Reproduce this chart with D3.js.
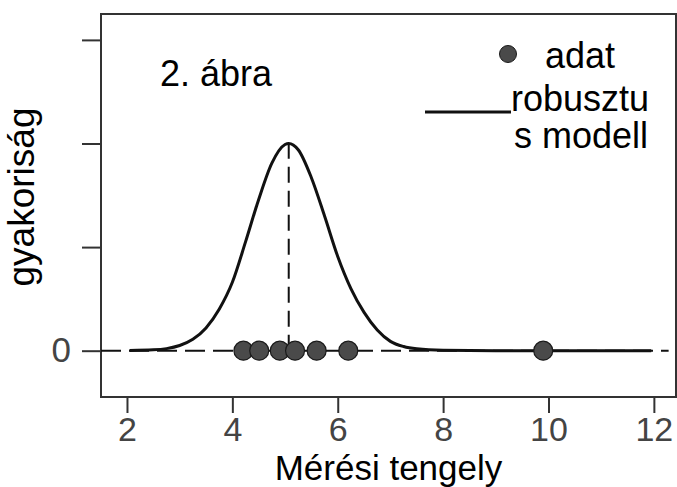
<!DOCTYPE html>
<html lang="hu">
<head>
  <meta charset="utf-8">
  <style>
    body { margin: 0; padding: 0; background: #fff; }
    text { font-family: "Liberation Sans", Arial, Helvetica, sans-serif; }
    .tick text { font-family: "Liberation Sans Narrow", "Liberation Sans", Arial, sans-serif; }
  </style>
</head>
<body>
<svg width="677" height="487"></svg>
<script src="https://d3js.org/d3.v7.min.js"></script>
<script>
  // measured points on the "Mérési tengely" axis
  var dataPoints = [4.21, 4.51, 4.90, 5.19, 5.60, 6.20, 9.90];

  // robust model curve
  var curveX = [2.05, 2.5, 2.75, 3.0, 3.25, 3.5, 3.75, 4.0, 4.25, 4.5, 4.75, 5.0, 5.07,
                5.25, 5.5, 5.75, 6.0, 6.25, 6.5, 6.75, 7.0, 7.25, 7.5, 8.0, 9.0, 10.0, 11.95];
  var curveY = [0.002, 0.008, 0.02, 0.05, 0.11, 0.22, 0.40, 0.66, 1.05, 1.46, 1.81, 1.99, 2.0,
                1.94, 1.67, 1.30, 0.91, 0.60, 0.37, 0.20, 0.09, 0.04, 0.018, 0.004, 0, 0, 0];

  var center = 5.07, peak = 2.0;

  var xTicks = [2, 4, 6, 8, 10, 12];
  var yTicks = [0, 1, 2, 3];

  var svg = d3.select("svg"),
    box = { left: 101, right: 676, top: 14, bottom: 397 };

  var x = d3.scaleLinear().domain([1.507, 12.42]).range([box.left, box.right]);
  var y = d3.scaleLinear().domain([-0.447, 3.25]).range([box.bottom, box.top]);

  // axes
  svg.append("g")
    .attr("transform", "translate(0," + box.bottom + ")")
    .call(d3.axisBottom(x).tickValues(xTicks).tickSize(16).tickPadding(2).tickFormat(d3.format("d")))
    .call(function(g) {
      g.select(".domain").remove();
      g.selectAll("line").attr("stroke", "#333").attr("stroke-width", 2);
      g.selectAll("text").attr("fill", "#444").style("font-size", "34px").attr("dy", "0.75em");
    });

  svg.append("g")
    .attr("transform", "translate(" + box.left + ",0)")
    .call(d3.axisLeft(y).tickValues(yTicks).tickSize(19).tickPadding(11)
      .tickFormat(function(d) { return d === 0 ? "0" : ""; }))
    .call(function(g) {
      g.select(".domain").remove();
      g.selectAll("line").attr("stroke", "#333").attr("stroke-width", 2);
      g.selectAll("text").attr("fill", "#444").style("font-size", "35px");
    });

  // frame
  svg.append("rect")
    .attr("x", box.left).attr("y", box.top)
    .attr("width", box.right - box.left).attr("height", box.bottom - box.top)
    .attr("fill", "none").attr("stroke", "#333").attr("stroke-width", 2);

  // zero line and centre line (dashed)
  svg.append("line")
    .attr("x1", x(1.507)).attr("x2", x(12.28))
    .attr("y1", y(0)).attr("y2", y(0))
    .attr("stroke", "#111").attr("stroke-width", 2)
    .attr("stroke-dasharray", "20,8");

  svg.append("line")
    .attr("x1", x(center)).attr("x2", x(center))
    .attr("y1", y(0)).attr("y2", y(peak))
    .attr("stroke", "#111").attr("stroke-width", 2)
    .attr("stroke-dasharray", "16,8");

  // model curve
  var line = d3.line()
    .x(function(d, i) { return x(curveX[i]); })
    .y(function(d, i) { return y(curveY[i]); })
    .curve(d3.curveMonotoneX);

  svg.append("path")
    .datum(curveX)
    .attr("d", line)
    .attr("fill", "none")
    .attr("stroke", "#111")
    .attr("stroke-width", 3);

  // data points
  svg.append("g")
    .selectAll("circle")
    .data(dataPoints)
    .enter().append("circle")
    .attr("cx", function(d) { return x(d); })
    .attr("cy", y(0))
    .attr("r", 9.5)
    .attr("fill", "#4a4a4a")
    .attr("stroke", "#1a1a1a")
    .attr("stroke-width", 1.2);

  // title inside the plot
  svg.append("text")
    .attr("x", 160).attr("y", 86)
    .style("font-size", "36px")
    .text("2. ábra");

  // legend
  svg.append("circle")
    .attr("cx", 508).attr("cy", 54).attr("r", 8.5)
    .attr("fill", "#4a4a4a").attr("stroke", "#1a1a1a");
  svg.append("text").attr("x", 545).attr("y", 68).style("font-size", "36px").text("adat");
  svg.append("line")
    .attr("x1", 425).attr("x2", 511).attr("y1", 112).attr("y2", 112)
    .attr("stroke", "#111").attr("stroke-width", 3);
  svg.append("text").attr("x", 511).attr("y", 111).style("font-size", "36px").text("robusztu");
  svg.append("text").attr("x", 514).attr("y", 148).style("font-size", "36px").text("s modell");

  // axis titles
  svg.append("text")
    .attr("x", (box.left + box.right) / 2).attr("y", 480)
    .attr("text-anchor", "middle")
    .style("font-size", "35px")
    .text("Mérési tengely");

  svg.append("text")
    .attr("transform", "translate(34," + 197 + ") rotate(-90)")
    .attr("text-anchor", "middle")
    .style("font-size", "37px")
    .text("gyakoriság");
</script>
</body>
</html>
